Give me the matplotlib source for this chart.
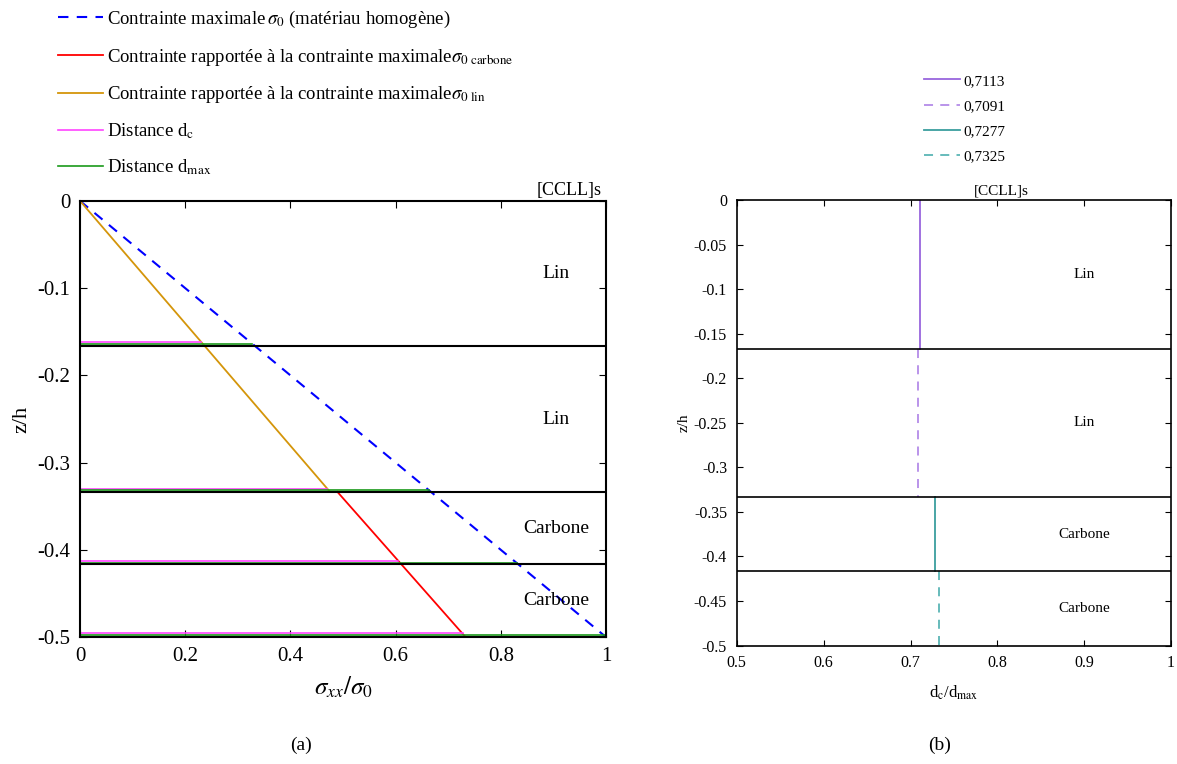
import numpy as np
import matplotlib.pyplot as plt

plt.rcParams['font.family'] = ['Liberation Serif', 'DejaVu Serif']
plt.rcParams['mathtext.fontset'] = 'stix'

# layer boundaries (z/h) and layer names
z_bounds = [0, -1/6, -1/3, -5/12, -1/2]
layer_names = ['Lin', 'Lin', 'Carbone', 'Carbone']

# (a) stress profiles
homog_x = [0, 1.0]
homog_z = [0, -0.5]
lin_x = [0, 0.475]
lin_z = [0, -1/3]
carb_x = [0.489, 0.733]
carb_z = [-1/3, -0.5]
dc_z = [-0.1617, -0.3300, -0.4130, -0.4955]
dc_end = [0.230, 0.470, 0.605, 0.727]
dmax_z = [-0.1635, -0.3315, -0.4145, -0.4975]
dmax_end = [0.327, 0.663, 0.830, 1.0]

# (b) d_c / d_max per layer
ratios = [0.7113, 0.7091, 0.7277, 0.7325]
ratio_labels = ['0,7113', '0,7091', '0,7277', '0,7325']
ratio_colors = ['#9966dd', '#b48be8', '#3a9e9e', '#5bb5b5']
ratio_styles = ['-', (0, (5, 4)), '-', (0, (5, 4))]

fig = plt.figure(figsize=(11.77, 7.64), dpi=100)

# ---------- (a) ----------
ax1 = fig.add_axes([0.068, 0.166, 0.447, 0.571])
h_blue, = ax1.plot(homog_x, homog_z, color='#0000ff', lw=1.5, ls=(0, (5, 4)),
                   label=r'Contrainte maximale$\,\sigma_0$ (matériau homogène)')
h_red, = ax1.plot(carb_x, carb_z, color='#ff0000', lw=1.3,
                  label=r'Contrainte rapportée à la contrainte maximale$\sigma_{0\ \mathrm{carbone}}$')
h_or, = ax1.plot(lin_x, lin_z, color='#d4950a', lw=1.3,
                 label=r'Contrainte rapportée à la contrainte maximale$\sigma_{0\ \mathrm{lin}}$')
for z, e in zip(dc_z, dc_end):
    h_mag, = ax1.plot([0, e], [z, z], color='#ff44ff', lw=1.2, label=r'Distance d$_\mathrm{c}$')
for z, e in zip(dmax_z, dmax_end):
    h_gr, = ax1.plot([0, e], [z, z], color='#1a9a1a', lw=1.2, label=r'Distance d$_\mathrm{max}$')
for z in z_bounds[1:-1]:
    ax1.axhline(z, color='black', lw=1.5)

for i, name in enumerate(layer_names):
    zc = (z_bounds[i] + z_bounds[i + 1]) / 2
    ax1.text(0.905, zc, name, ha='center', va='center', fontsize=14)

ax1.set_xlim(0, 1)
ax1.set_ylim(-0.5, 0)
ax1.set_xticks(np.arange(0, 1.01, 0.2))
ax1.set_xticklabels(['0', '0.2', '0.4', '0.6', '0.8', '1'])
ax1.set_yticks(np.arange(-0.5, 0.01, 0.1))
ax1.set_yticklabels(['-0.5', '-0.4', '-0.3', '-0.2', '-0.1', '0'])
ax1.tick_params(direction='in', top=True, right=True, labelsize=15, length=5, pad=7)
for s in ax1.spines.values():
    s.set_linewidth(1.5)
ax1.set_xlabel(r'$\sigma_{xx}/\sigma_0$', fontsize=18, labelpad=6)
ax1.set_ylabel('z/h', fontsize=16, labelpad=4)
ax1.text(0.93, 1.005, '[CCLL]s', transform=ax1.transAxes, ha='center', va='bottom', fontsize=13)

fig.legend(handles=[h_blue, h_red, h_or, h_mag, h_gr], loc='upper left',
           bbox_to_anchor=(0.04, 1.003), frameon=False, fontsize=13.5,
           handlelength=2.4, handletextpad=0.2, labelspacing=0.88, borderaxespad=0.2)

# ---------- (b) ----------
ax2 = fig.add_axes([0.626, 0.155, 0.369, 0.583])
handles = []
for i, r in enumerate(ratios):
    h, = ax2.plot([r, r], [z_bounds[i], z_bounds[i + 1]], color=ratio_colors[i],
                  ls=ratio_styles[i], lw=1.3, label=ratio_labels[i])
    handles.append(h)
for z in z_bounds[1:-1]:
    ax2.axhline(z, color='black', lw=1.2)
for i, name in enumerate(layer_names):
    zc = (z_bounds[i] + z_bounds[i + 1]) / 2
    ax2.text(0.9, zc, name, ha='center', va='center', fontsize=11)

ax2.set_xlim(0.5, 1)
ax2.set_ylim(-0.5, 0)
ax2.set_xticks(np.arange(0.5, 1.01, 0.1))
ax2.set_xticklabels(['0.5', '0.6', '0.7', '0.8', '0.9', '1'])
yt = np.arange(-0.5, 0.001, 0.05)
ax2.set_yticks(yt)
ax2.set_yticklabels(['-0.5', '-0.45', '-0.4', '-0.35', '-0.3', '-0.25', '-0.2',
                     '-0.15', '-0.1', '-0.05', '0'])
ax2.tick_params(direction='in', top=True, right=True, labelsize=11.5, length=4, pad=7)
for s in ax2.spines.values():
    s.set_linewidth(1.2)
ax2.set_xlabel(r'd$_\mathrm{c}$/d$_\mathrm{max}$', fontsize=12, labelpad=9)
ax2.set_ylabel('z/h', fontsize=11, labelpad=2)
ax2.text(0.61, 1.005, '[CCLL]s', transform=ax2.transAxes, ha='center', va='bottom', fontsize=11)

fig.legend(handles=handles, loc='upper left', bbox_to_anchor=(0.777, 0.915),
           frameon=False, fontsize=11, handlelength=2.4, handletextpad=0.2,
           labelspacing=0.75, borderaxespad=0.2)

fig.text(0.256, 0.025, '(a)', ha='center', va='center', fontsize=14)
fig.text(0.798, 0.025, '(b)', ha='center', va='center', fontsize=14)

fig.savefig('out.png', dpi=100)
